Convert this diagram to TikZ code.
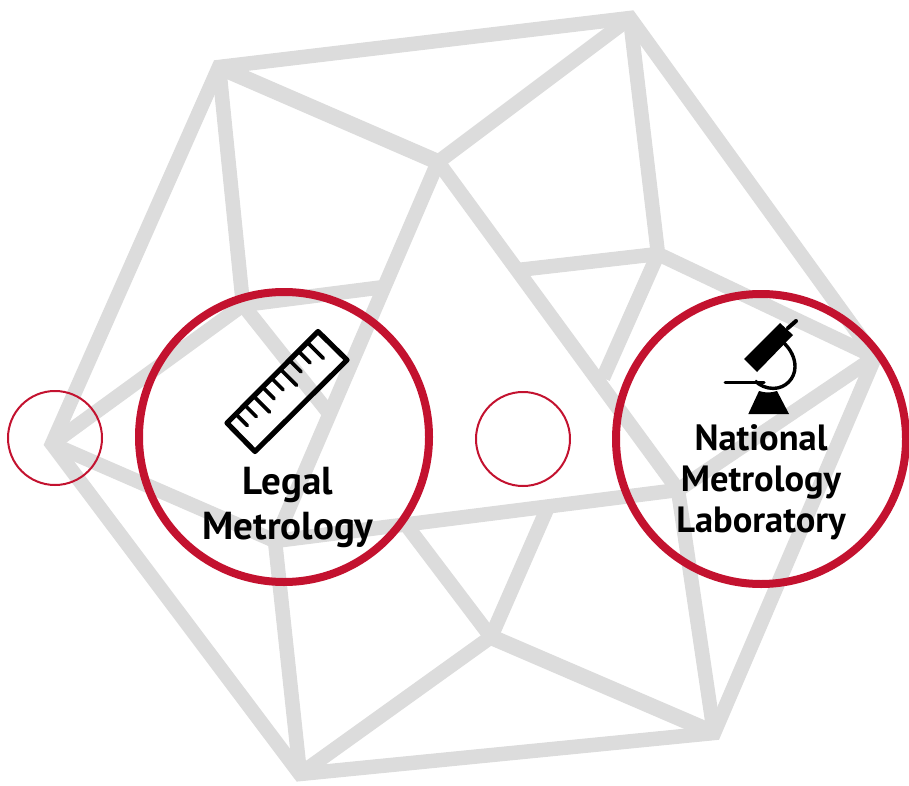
\documentclass[tikz,border=0pt]{standalone}
\usepackage{fontspec}
\setmainfont{PT Sans}
\definecolor{edge}{HTML}{DCDCDC}
\definecolor{ring}{HTML}{C3122F}
\tikzset{
  edgeline/.style={draw=edge,line width=14.5pt,line cap=butt,line join=miter},
  bigring/.style={draw=ring,line width=8pt},
  smallring/.style={draw=ring,line width=2pt},
  lblL/.style={font=\bfseries\fontsize{39}{45}\selectfont,align=center,text=black,inner sep=0pt},
  lblR/.style={font=\bfseries\fontsize{36.5}{41}\selectfont,align=center,text=black,inner sep=0pt},
  ink/.style={draw=black,line width=5.2pt,line cap=round,line join=round}
}
\begin{document}
\begin{tikzpicture}[x=1pt,y=-1pt]
\useasboundingbox (0,0) rectangle (909,786);
\coordinate (A) at (219,67);
\coordinate (B) at (630,18);
\coordinate (C) at (438,162);
\coordinate (D) at (52,444);
\coordinate (F) at (243,305);
\coordinate (E) at (384,287);
\coordinate (G) at (658,254);
\coordinate (H) at (518,270);
\coordinate (N) at (603,378);
\coordinate (R) at (875,357);
\coordinate (S) at (714,733);
\coordinate (T) at (300,774);
\coordinate (J) at (275,541);
\coordinate (K) at (678,490);
\coordinate (L) at (547,509);
\coordinate (M) at (491,637);
\coordinate (P) at (328,412);
\coordinate (Q) at (407,526);
% inner edges first, then the outer polygon
\foreach \p/\q in {F/E,B/G,G/H,G/N,G/R,C/K,C/J,D/J,J/K,J/T,K/S,K/R,A/F,F/D,F/P,Q/M,L/M,M/T,B/C}
  \draw[edgeline] (\p) -- (\q);
\draw[edgeline,line width=16pt] (A) -- (C);
\draw[edgeline,line width=16pt] (M) -- (S);
\draw[edgeline] (A) -- (B) -- (R) -- (S) -- (T) -- (D) -- cycle;
\draw[bigring] (284,437) circle (145);
\draw[bigring] (761,439) circle (145);
\draw[smallring] (55,438) circle (47);
\draw[smallring] (523,439) circle (47);
% ruler
\draw[ink] (318,331.5) -- (347,360) -- (255,451.5) -- (227,423) -- cycle;
\foreach \t/\l in {0/10.3,1/10.3,2/14.7,3/10.3,4/10.3,5/14.7,6/10.3,7/10.3,8/14.7}{
  \pgfmathsetmacro{\px}{237+\t*8.96}
  \pgfmathsetmacro{\py}{415.3-\t*8.96}
  \draw[draw=black,line width=3.7pt,line cap=round] (\px,\py) -- ++(\l,\l);
}
% microscope
\fill[black] (744,359) -- (780,323) -- (793,335) -- (757,372) -- cycle;
\draw[black,line width=4pt,line cap=round] (788,328) -- (796,321);
\draw[black,line width=3.4pt] (784,343) .. controls (791,350) and (795,358) .. (795,366.7)
  .. controls (795,378.7) and (785.3,388.4) .. (773.3,388.4)
  .. controls (766,388.4) and (760,385.5) .. (755,381);
\draw[black,line width=3pt,line cap=round] (725,382.7) -- (764,382.7);
\fill[black] (748.3,414) -- (789,414) -- (777,391) .. controls (770,393) and (766,393) .. (759,391) -- cycle;
\node[lblL] (legal) at (288,507) {Legal\\Metrology};
\node[lblR] (nml) at (761,482) {National\\Metrology\\Laboratory};
\end{tikzpicture}
\end{document}
